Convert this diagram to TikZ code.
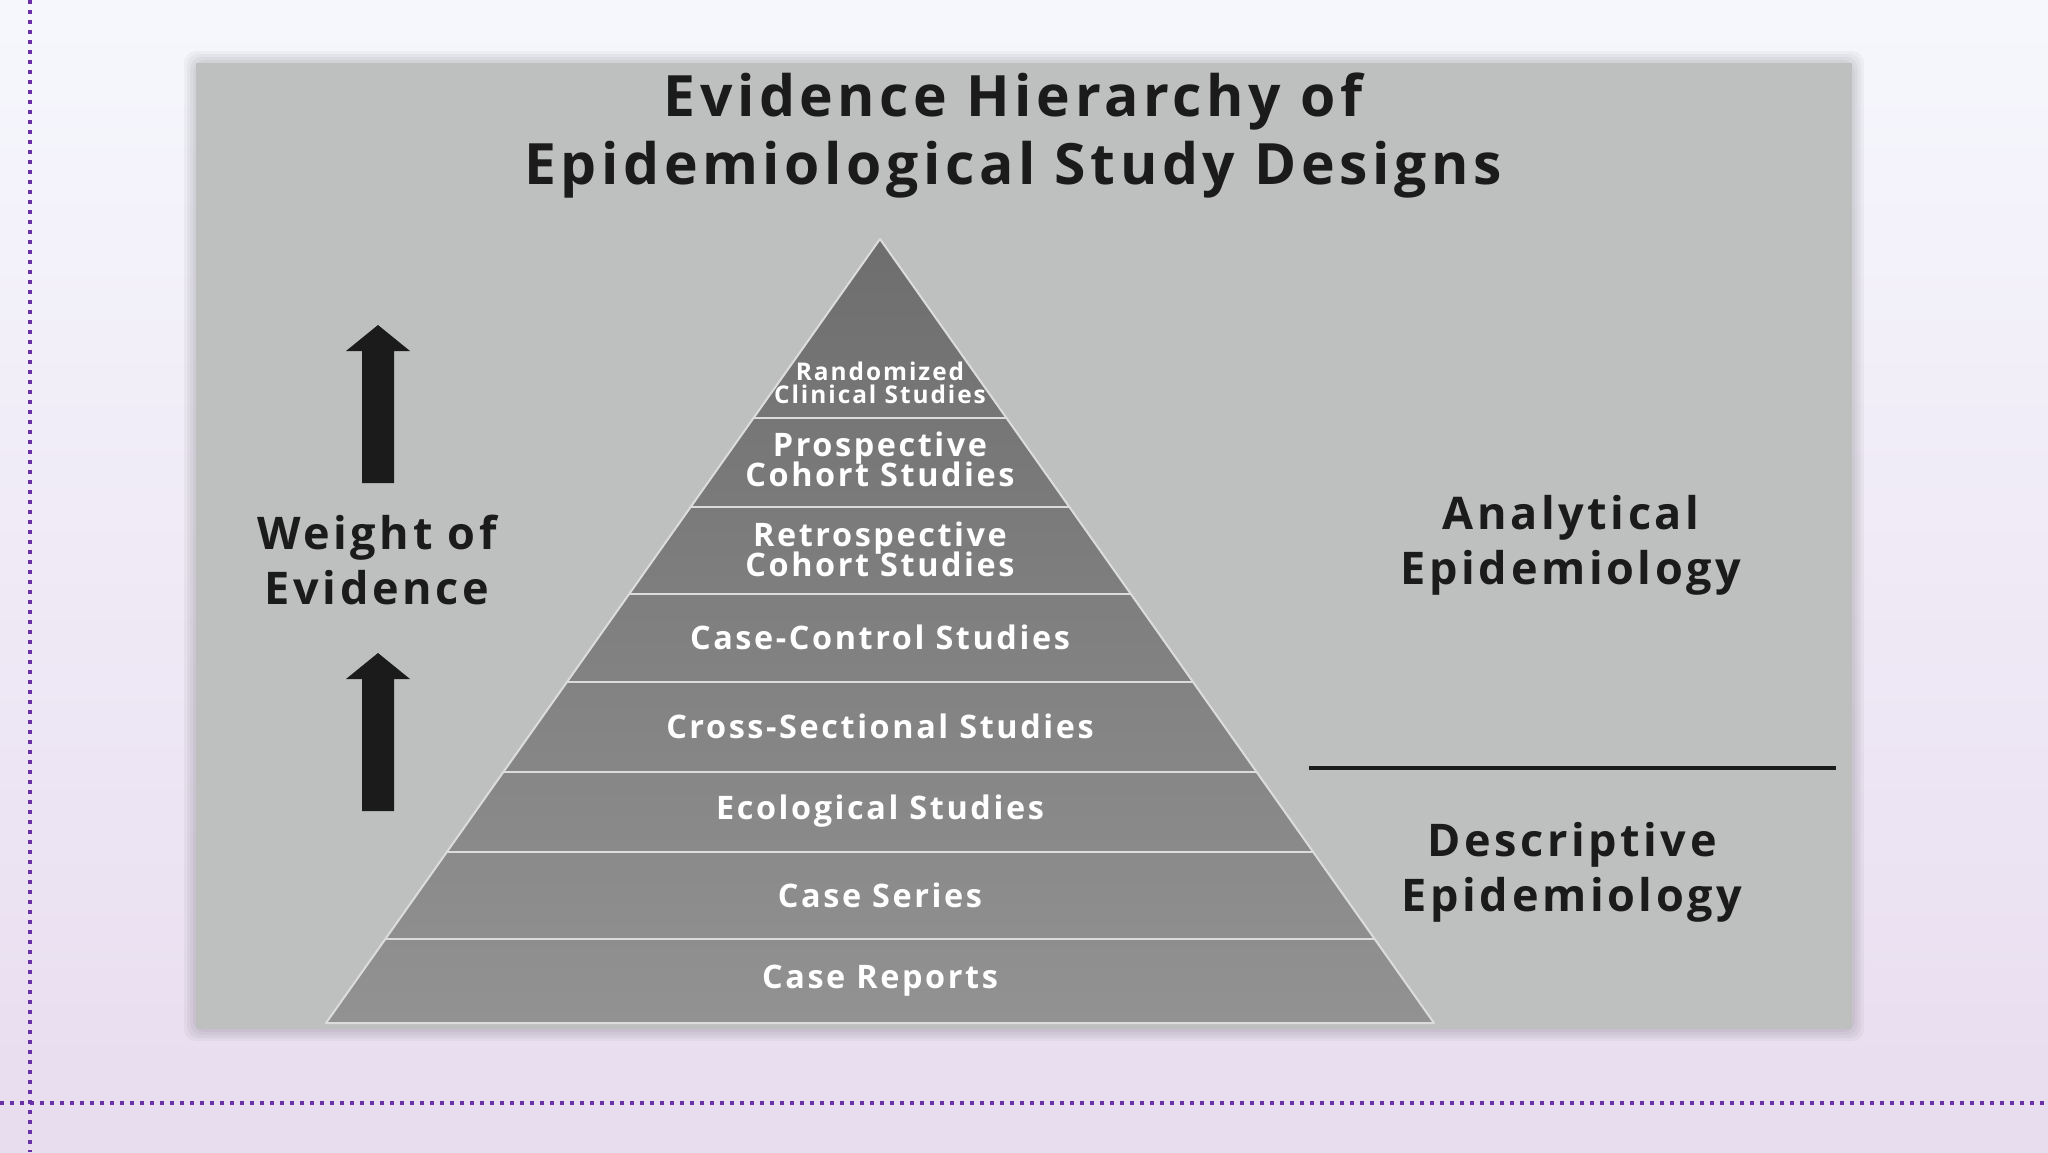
\documentclass[tikz,border=0pt]{standalone}
\usepackage{fontspec}
\setmainfont{Open Sans}[LetterSpace=8]
\usepackage{tikz}
\usetikzlibrary{arrows.meta,positioning,calc}
\definecolor{PageTop}{HTML}{F6F7FD}
\definecolor{PageBot}{HTML}{E8DCEF}
\definecolor{Dots}{HTML}{6A30A8}
\definecolor{Panel}{HTML}{BEBFBF}
\definecolor{PyrTop}{HTML}{6E6E6E}
\definecolor{PyrBot}{HTML}{929292}
\definecolor{Seam}{HTML}{DCDCDC}
\definecolor{Ink}{HTML}{1B1B1B}
\newcommand\tightlines{\lineskiplimit=-20pt\relax}

\tikzset{
  layerlbl/.style={text=white,font=\bfseries\fontsize{16.2}{15}\selectfont\tightlines,align=center,inner sep=0pt},
  sidelbl/.style={text=Ink,font=\bfseries\fontsize{22.5}{27.5}\selectfont,align=center,inner sep=0pt},
  dotline/.style={Dots,line width=2pt,dash pattern=on 2pt off 3pt},
  seam/.style={Seam,line width=1.4pt},
}

\begin{document}
\begin{tikzpicture}[x=0.5pt,y=-0.5pt]
  \useasboundingbox (0,0) rectangle (2048,1152);
  \shade[top color=PageTop,bottom color=PageBot] (0,0) rectangle (2048,1152);
  \draw[dotline] (30,0) -- (30,1152);
  \draw[dotline] (0,1103) -- (2048,1103);

  % panel with a soft shadow
  \foreach \s in {12,9,6,3}
    \fill[black,opacity=0.035,rounded corners=6] (196-\s,63-\s) rectangle (1852+\s,1029+\s);
  \fill[Panel] (196,63) rectangle (1852,1029);

  \node[text=Ink,font=\bfseries\fontsize{28.5}{34}\selectfont,align=center,inner sep=0pt] (title) at (1013,136)
    {Evidence Hierarchy of\\Epidemiological Study Designs};

  % pyramid
  \coordinate (apex) at (880,239);
  \coordinate (baseL) at (326,1023);
  \coordinate (baseR) at (1434,1023);
  \shade[top color=PyrTop,bottom color=PyrBot] (apex) -- (baseL) -- (baseR) -- cycle;
  \foreach \yy in {418,507,594,682,772,852,939}
    \draw[seam] ({880-(\yy-239)*0.7066},\yy) -- ({880+(\yy-239)*0.7066},\yy);
  \draw[seam,line width=1pt,line join=round] (apex) -- (baseL) -- (baseR) -- cycle;

  \node[layerlbl,font=\bfseries\fontsize{12.2}{11.5}\selectfont] (rct) at (880,383) {Randomized\\Clinical Studies};
  \node[layerlbl] (pcs) at (880,459) {Prospective\\Cohort Studies};
  \node[layerlbl] (rcs) at (880,549) {Retrospective\\Cohort Studies};
  \node[layerlbl] (cc) at (880,637) {Case-Control Studies};
  \node[layerlbl] (xs) at (880,726) {Cross-Sectional Studies};
  \node[layerlbl] (eco) at (880,811) {Ecological Studies};
  \node[layerlbl] (cser) at (880,895) {Case Series};
  \node[layerlbl] (crep) at (880,981) {Case Reports};

  % weight of evidence
  \foreach \yt/\yb in {325/483,653/811}
    \fill[Ink] (378,\yt) -- (410,\yt+26) -- (394,\yt+26) -- (394,\yb)
      -- (362,\yb) -- (362,\yt+26) -- (346,\yt+26) -- cycle;
  \node[sidelbl] (woe) at (377,560) {Weight of\\Evidence};

  \node[sidelbl] (ana) at (1571,545) {Analytical\\Epidemiology};
  \coordinate (divL) at (1309,768);
  \coordinate (divR) at (1836,768);
  \draw[Ink,line width=2pt] (divL) -- (divR);
  \node[sidelbl] (desc) at (1572,872) {Descriptive\\Epidemiology};
\end{tikzpicture}
\end{document}
